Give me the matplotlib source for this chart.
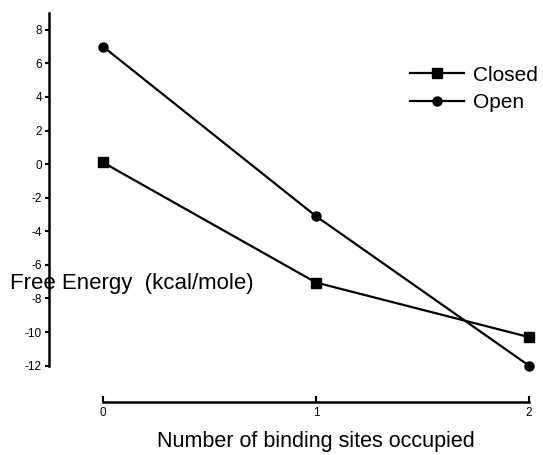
import matplotlib.pyplot as plt

plt.rcParams['font.family'] = ['Liberation Sans', 'DejaVu Sans']

sites = [0, 1, 2]
closed = [0.1, -7.05, -10.3]
open_ = [7.0, -3.1, -12.0]
yticks = [8, 6, 4, 2, 0, -2, -4, -6, -8, -10, -12]


def main():
    fig = plt.figure(figsize=(5.43, 4.55), dpi=100)
    ax = fig.add_axes([0.1897, 0.189, 0.7845, 0.7824])
    ax.plot(sites, closed, color="black", lw=1.6, marker="s", ms=6.5,
            label="Closed", clip_on=False)
    ax.plot(sites, open_, color="black", lw=1.6, marker="o", ms=6.5,
            label="Open", clip_on=False)

    ax.set_xlim(0, 2)
    ax.set_ylim(-12.2, 9)
    ax.spines["top"].set_visible(False)
    ax.spines["right"].set_visible(False)
    ax.spines["left"].set_position(("outward", 39))
    ax.spines["bottom"].set_position(("outward", 24))
    ax.spines["left"].set_linewidth(1.8)
    ax.spines["bottom"].set_linewidth(1.8)
    ax.spines["left"].set_bounds(-12, 9)

    ax.set_xticks(sites)
    ax.set_xticklabels([str(s) for s in sites])
    ax.set_yticks(yticks)
    ax.set_yticklabels([str(t) for t in yticks])
    ax.tick_params(axis="x", direction="in", length=4, width=1.5, labelsize=8.5, pad=3)
    ax.tick_params(axis="y", direction="out", length=3, width=1.5, labelsize=8.5, pad=2)

    ax.set_xlabel("Number of binding sites occupied", fontsize=15.5, labelpad=9)
    fig.text(0.018, 0.378, "Free Energy  (kcal/mole)", fontsize=16, va="center", ha="left")

    ax.legend(loc="center left", bbox_to_anchor=(0.72, 0.787), frameon=False,
              fontsize=15, handlelength=2.6, handletextpad=0.45, labelspacing=0.4,
              borderaxespad=0, borderpad=0)

    plt.savefig("out.png", dpi=100)


if __name__ == "__main__":
    main()
